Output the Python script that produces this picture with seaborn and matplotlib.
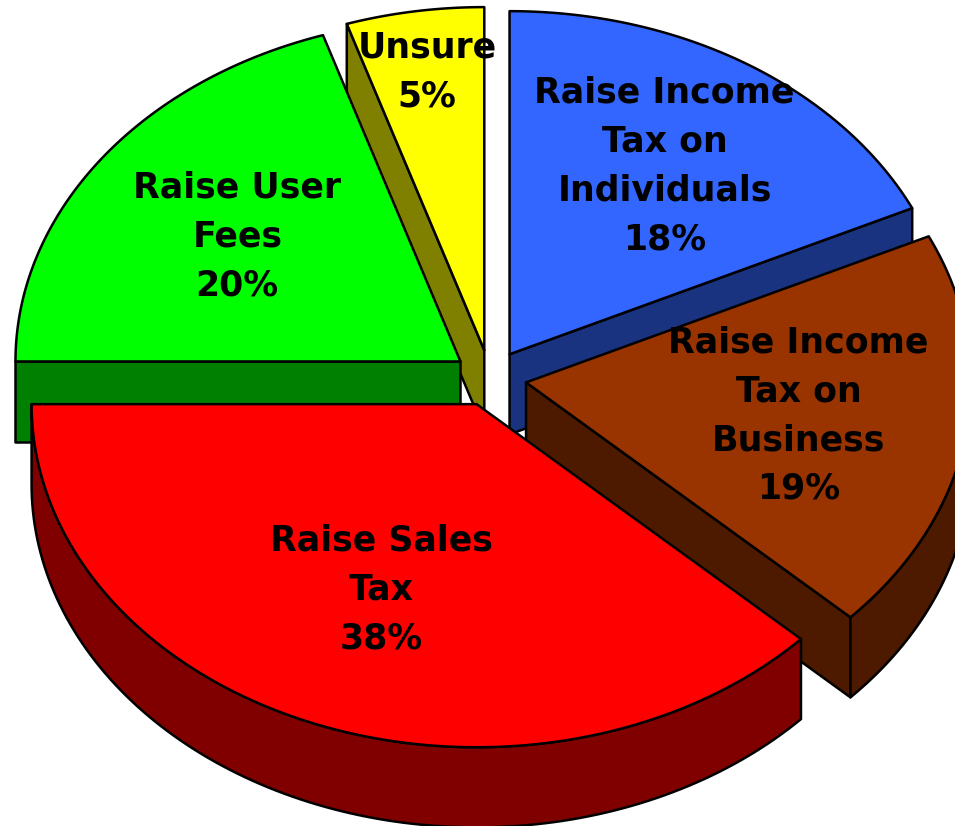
import numpy as np
import matplotlib
matplotlib.use('Agg')
import matplotlib.pyplot as plt
from matplotlib.patches import Polygon
import seaborn as sns

sns.set_style('white')
plt.rcParams['font.family'] = ['DejaVu Sans']

# data, clockwise from 12 o'clock
labels = ['Raise Income\nTax on\nIndividuals', 'Raise Income\nTax on\nBusiness',
          'Raise Sales\nTax', 'Raise User\nFees', 'Unsure']
values = [18, 19, 38, 20, 5]
top_colors = ['#3366FF', '#993300', '#FF0000', '#00FF00', '#FFFF00']
side_colors = ['#1A3380', '#4D1A00', '#800000', '#008000', '#808000']
label_dist = [0.65, 0.62, 0.58, 0.62, 0.82]

# 3d look
rx, ry = 1.0, 0.771
depth = 0.18
explode = 0.082


def arc(cx, cy, t1, t2, n=120):
    t = np.linspace(t1, t2, n)
    return np.column_stack([cx + rx * np.cos(t), cy + ry * np.sin(t)])


fig = plt.figure(figsize=(9.55, 8.26), dpi=100)
ax = fig.add_axes([0, 0, 1, 1])
ax.set_xlim(-490 / 445, 465 / 445)
ax.set_ylim(-448 / 445, 378 / 445)
ax.axis('off')

total = sum(values)
slices = []
cum = 0
for i, v in enumerate(values):
    t2 = np.pi / 2 - 2 * np.pi * cum / total
    t1 = t2 - 2 * np.pi * v / total
    cum += v
    mid = (t1 + t2) / 2
    px = explode * rx * np.cos(mid)
    py = explode * ry * np.sin(mid)
    slices.append((i, t1, t2, mid, px, py))

# back to front
slices.sort(key=lambda s: -np.sin(s[3]))

kw = dict(edgecolor='black', linewidth=1.8, joinstyle='round')
for i, t1, t2, mid, px, py in slices:
    sc = side_colors[i]
    # radial side faces
    for t, vis in ((t1, np.cos(t1) > 1e-6), (t2, np.cos(t2) < -1e-6)):
        if vis:
            ex, ey = px + rx * np.cos(t), py + ry * np.sin(t)
            ax.add_patch(Polygon([(px, py), (ex, ey), (ex, ey - depth), (px, py - depth)],
                                 closed=True, facecolor=sc, **kw))
    # outer curved face, front half only
    for k in (-1, 0, 1):
        lo = max(t1, np.pi + 2 * np.pi * k)
        hi = min(t2, 2 * np.pi + 2 * np.pi * k)
        if lo < hi:
            top = arc(px, py, lo, hi)
            bot = top[::-1] - [0, depth]
            ax.add_patch(Polygon(np.vstack([top, bot]), closed=True, facecolor=sc, **kw))
    # top face
    pts = np.vstack([[px, py], arc(px, py, t1, t2)])
    ax.add_patch(Polygon(pts, closed=True, facecolor=top_colors[i], **kw))

for i, t1, t2, mid, px, py in slices:
    d = label_dist[i]
    lx = px + d * rx * np.cos(mid)
    ly = py + d * ry * np.sin(mid)
    ax.text(lx, ly, f'{labels[i]}\n{values[i]}%', ha='center', va='center',
            fontsize=25, fontweight='bold', color='black', linespacing=1.55,
            multialignment='center')

fig.savefig('out.png', dpi=100)
